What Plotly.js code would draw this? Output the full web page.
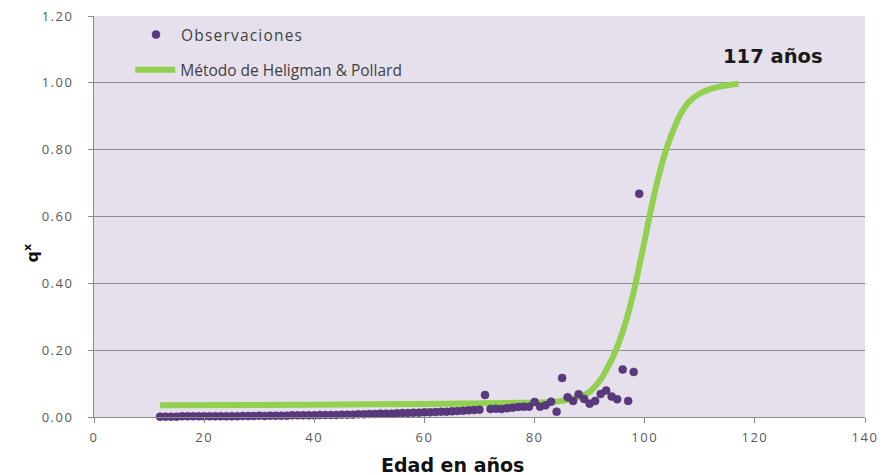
<!DOCTYPE html>
<html>
<head>
<meta charset="utf-8">
<script src="https://cdn.plot.ly/plotly-3.0.1.min.js"></script>
<style>
html,body{margin:0;padding:0;background:#fff;}
#chart{width:884px;height:475px;}
.xtick text,.ytick text{letter-spacing:1.5px;}
.legendtext{letter-spacing:1.2px;}
</style>
</head>
<body>
<div id="chart"></div>
<script>
// Observed qx by age (12..99)
var obsAges = [12,13,14,15,16,17,18,19,20,21,22,23,24,25,26,27,28,29,30,31,32,33,34,35,36,37,38,39,40,41,42,43,44,45,46,47,48,49,50,51,52,53,54,55,56,57,58,59,60,61,62,63,64,65,66,67,68,69,70,71,72,73,74,75,76,77,78,79,80,81,82,83,84,85,86,87,88,89,90,91,92,93,94,95,96,97,98,99];
var obsQx = [0.001,0.001,0.001,0.001,0.002,0.002,0.002,0.002,
  0.002,0.002,0.002,0.002,0.002,0.002,0.002,0.003,0.003,0.003,
  0.004,0.003,0.004,0.004,0.004,0.004,0.005,0.005,0.005,0.005,
  0.005,0.006,0.006,0.006,0.006,0.007,0.007,0.007,0.008,0.008,
  0.009,0.009,0.010,0.010,0.010,0.011,0.012,0.012,0.013,0.013,
  0.014,0.014,0.015,0.016,0.016,0.017,0.018,0.019,0.020,0.021,
  0.022,0.066,0.024,0.025,0.024,0.026,0.028,0.030,0.031,0.031,
  0.045,0.031,0.035,0.046,0.016,0.117,0.059,0.048,0.068,0.054,
  0.040,0.048,0.069,0.079,0.061,0.053,0.142,0.048,0.135,0.668];
// Heligman & Pollard fitted curve
var hpAges = [12,40,60,75,84,87,89,90,92,94,95,96,97,98,99,100,101,102,103,104,105,106,107,108,110,112,114,117];
var hpQx = [0.035,0.037,0.039,0.042,0.046,0.055,0.066,0.075,0.112,0.172,0.21,0.255,0.31,0.375,0.45,0.53,0.61,0.685,0.75,0.805,0.85,0.89,0.92,0.942,0.968,0.982,0.99,0.997];
var obsName = 'Observaciones';
var hpName = 'Método de Heligman &amp; Pollard';
var xTitle = 'Edad en años';
var yTitle = 'q<sup>x</sup>';
var endLabel = '117 años';

var traces = [
  {x: hpAges, y: hpQx, type: 'scatter', mode: 'lines', name: hpName, legend: 'legend2',
   line: {color: '#92d050', width: 6, shape: 'spline', smoothing: 0.6}, cliponaxis: false},
  {x: obsAges, y: obsQx, type: 'scatter', mode: 'markers', name: obsName, legend: 'legend',
   marker: {color: '#5a3a7e', size: 8, line: {color: '#4a2d6c', width: 0.5}}, cliponaxis: false}
];

var tickFont = {family: 'Open Sans, sans-serif', size: 13, color: '#595959'};
var legFont = {family: 'Open Sans, sans-serif', size: 15.5, color: '#404040'};
var layout = {
  width: 884, height: 475,
  paper_bgcolor: '#ffffff',
  plot_bgcolor: '#e6e0ec',
  margin: {l: 94, r: 19, t: 16, b: 58},
  showlegend: true,
  legend: {x: 0.048, y: 0.995, xanchor: 'left', yanchor: 'top', bgcolor: 'rgba(0,0,0,0)', itemwidth: 40, font: legFont},
  legend2: {x: 0.047, y: 0.907, xanchor: 'left', yanchor: 'top', bgcolor: 'rgba(0,0,0,0)', itemwidth: 40, font: legFont},
  xaxis: {range: [0, 140], dtick: 20, tick0: 0, showgrid: false, zeroline: false,
          showline: true, linecolor: '#8c8c8c', linewidth: 1,
          ticks: 'outside', ticklen: 5, tickcolor: '#8c8c8c', tickfont: tickFont, ticklabelstandoff: 3},
  yaxis: {range: [0, 1.2], dtick: 0.2, tick0: 0, tickformat: '.2f', showgrid: true, gridcolor: '#8c8c8c', gridwidth: 1,
          zeroline: false, showline: true, linecolor: '#8c8c8c', linewidth: 1,
          ticks: 'outside', ticklen: 5, tickcolor: '#8c8c8c', tickfont: tickFont, ticklabelstandoff: 12},
  annotations: [
    {text: endLabel, x: 123.3, y: 1.08, xref: 'x', yref: 'y', showarrow: false,
     font: {family: 'DejaVu Sans, sans-serif', size: 19.5, color: '#1a1a1a', weight: 'bold'}},
    {text: xTitle, x: 0.4656, y: -0.12, xref: 'paper', yref: 'paper', showarrow: false, yanchor: 'middle',
     font: {family: 'DejaVu Sans, sans-serif', size: 19, color: '#111111', weight: 'bold'}},
    {text: yTitle, x: -0.096, y: 0.409, xref: 'paper', yref: 'paper', showarrow: false, textangle: -90,
     font: {family: 'DejaVu Sans, sans-serif', size: 16, color: '#111111', weight: 'bold'}}
  ]
};
Plotly.newPlot('chart', traces, layout, {displayModeBar: false, staticPlot: true});
</script>
</body>
</html>
